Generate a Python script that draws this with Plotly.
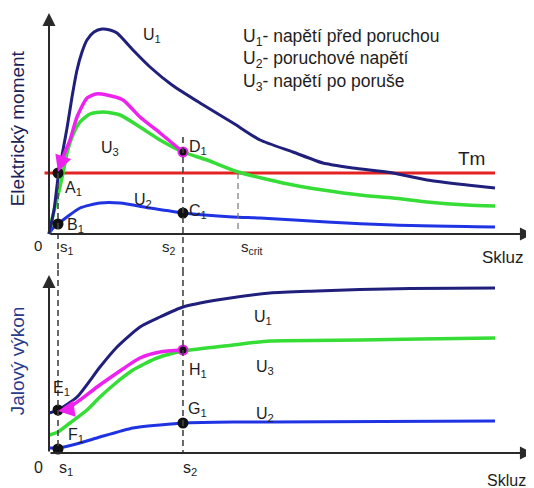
import plotly.graph_objects as go

# ---------------- data (slip s, torque T / reactive power Q, arbitrary units) -------------
# Top panel: electric torque vs slip
s_u1 = [0, 0.0112, 0.0202, 0.0314, 0.0404, 0.0516, 0.0628, 0.0740, 0.0852, 0.1009, 0.1188,
        0.1368, 0.1525, 0.1883, 0.2265, 0.2758, 0.3386, 0.4126, 0.4731, 0.5471, 0.6143,
        0.6816, 0.7713, 0.8475, 0.9372, 1.0]
t_u1 = [0, 0.24, 0.56, 0.84, 1.06, 1.37, 1.64, 1.82, 1.94, 2.02, 2.05,
        2.04, 2.01, 1.84, 1.67, 1.49, 1.31, 1.11, 0.94, 0.82, 0.71,
        0.66, 0.61, 0.54, 0.49, 0.46]

s_u3 = [0, 0.009, 0.0202, 0.0314, 0.0404, 0.0516, 0.0695, 0.0919, 0.1211, 0.1592, 0.2040,
        0.2489, 0.3004, 0.3543, 0.4238, 0.4955, 0.5471, 0.6143, 0.6973, 0.7713, 0.8475,
        0.9372, 1.0]
t_u3 = [0, 0.19, 0.39, 0.61, 0.81, 0.97, 1.12, 1.20, 1.22, 1.19, 1.07,
        0.94, 0.82, 0.74, 0.62, 0.54, 0.49, 0.44, 0.39, 0.36, 0.32,
        0.29, 0.28]

s_u2 = [0, 0.009, 0.0202, 0.0404, 0.0695, 0.1143, 0.1592, 0.2265, 0.3004, 0.4126, 0.4731,
        0.6233, 0.7713, 1.0]
t_u2 = [0, 0.06, 0.10, 0.17, 0.26, 0.31, 0.31, 0.26, 0.21, 0.17, 0.16,
        0.12, 0.09, 0.07]

s_tr_top = [0.3004, 0.2489, 0.2040, 0.1659, 0.1300, 0.1054, 0.0852, 0.0628, 0.0471, 0.0314, 0.0202]
t_tr_top = [0.82, 1.01, 1.17, 1.34, 1.39, 1.40, 1.36, 1.17, 0.94, 0.77, 0.62]

tm_value = 0.61
tm_s = [-0.01, 1.0]

s1 = 0.0202
s2 = 0.3004
s_crit = 0.4238

pts_top_s = [s1, s1, s2, s2]
pts_top_t = [0.61, 0.10, 0.21, 0.82]
pts_top_lab = ["A<sub>1</sub>", "B<sub>1</sub>", "C<sub>1</sub>", "D<sub>1</sub>"]

# Bottom panel: reactive power vs slip
s_q1 = [0, 0.0202, 0.0628, 0.1143, 0.1525, 0.2040, 0.2489, 0.3004, 0.3767, 0.4955, 0.6009,
        0.6973, 0.8094, 1.0]
q_u1 = [0.40, 0.43, 0.56, 0.86, 1.06, 1.26, 1.36, 1.46, 1.53, 1.60, 1.62,
        1.635, 1.645, 1.65]

s_q3 = [0, 0.0202, 0.0471, 0.0852, 0.1143, 0.1525, 0.1883, 0.2422, 0.3004, 0.4126, 0.4955,
        0.6973, 0.8318, 1.0]
q_u3 = [0.18, 0.21, 0.30, 0.43, 0.56, 0.71, 0.83, 0.95, 1.02, 1.08, 1.12,
        1.13, 1.14, 1.15]

s_q2 = [0, 0.0202, 0.0695, 0.1143, 0.1883, 0.2489, 0.3004, 0.4126, 0.4955, 1.0]
q_u2 = [0.05, 0.05, 0.10, 0.16, 0.25, 0.28, 0.30, 0.31, 0.31, 0.32]

s_tr_bot = [0.3004, 0.2489, 0.2040, 0.1525, 0.1076, 0.0695, 0.0359, 0.0202]
q_tr_bot = [1.03, 1.01, 0.95, 0.80, 0.66, 0.53, 0.43, 0.42]

pts_bot_s = [s1, s1, s2, s2]
pts_bot_q = [0.43, 0.04, 0.30, 1.03]

legend_lines = ["U<sub>1</sub>- napětí před poruchou",
                "U<sub>2</sub>- poruchové napětí",
                "U<sub>3</sub>- napětí po poruše"]

# ---------------- styling ----------------
NAVY = "#20207c"
GREEN = "#36dd36"
BLUE = "#1f33e3"
MAG = "#ee22ee"
RED = "#e52222"
AX = "#2a2a2a"
FONT = "Liberation Sans"
TXT = "#1e1e1e"

W, H = 526, 480
SPLIT = 262 / H
XR = [-41 / 446, (W - 41) / 446]
YR_TOP = [-0.36, 2.26]
YR_BOT = [-0.35, 1.83]

fig = go.Figure()

def line(x, y, color, w, xa="x", ya="y"):
    fig.add_trace(go.Scatter(x=x, y=y, mode="lines", xaxis=xa, yaxis=ya,
                             line=dict(color=color, width=w, shape="spline", smoothing=0.6),
                             hoverinfo="skip", showlegend=False))

# top panel
fig.add_trace(go.Scatter(x=tm_s, y=[tm_value, tm_value], mode="lines",
                         line=dict(color=RED, width=3), showlegend=False, hoverinfo="skip"))
line(s_u2, t_u2, BLUE, 3)
line(s_u3, t_u3, GREEN, 3.5)
line(s_u1, t_u1, NAVY, 3)
line(s_tr_top, t_tr_top, MAG, 3.5)

# bottom panel
line(s_q2, q_u2, BLUE, 3, "x2", "y2")
line(s_q3, q_u3, GREEN, 3.5, "x2", "y2")
line(s_q1, q_u1, NAVY, 3, "x2", "y2")
line(s_tr_bot, q_tr_bot, MAG, 3.5, "x2", "y2")

# points
fig.add_trace(go.Scatter(x=pts_top_s, y=pts_top_t, mode="markers",
                         marker=dict(color="#111", size=9,
                                     line=dict(color=["#111", "#111", "#111", MAG], width=2)),
                         showlegend=False, hoverinfo="skip"))
fig.add_trace(go.Scatter(x=pts_bot_s, y=pts_bot_q, mode="markers", xaxis="x2", yaxis="y2",
                         marker=dict(color="#111", size=9,
                                     line=dict(color=["#111", "#111", "#111", MAG], width=2)),
                         showlegend=False, hoverinfo="skip"))

fig.update_layout(
    width=W, height=H, margin=dict(l=0, r=0, t=0, b=0),
    paper_bgcolor="white", plot_bgcolor="white",
    xaxis=dict(domain=[0, 1], range=XR, visible=False, anchor="y"),
    yaxis=dict(domain=[1 - SPLIT, 1], range=YR_TOP, visible=False, anchor="x"),
    xaxis2=dict(domain=[0, 1], range=XR, visible=False, anchor="y2"),
    yaxis2=dict(domain=[0, 1 - SPLIT], range=YR_BOT, visible=False, anchor="x2"),
    font=dict(family=FONT, color=TXT),
)

shapes = []
DASH = "6px,4px"
# dashed guides
shapes.append(dict(type="line", xref="x", yref="y", x0=s1, x1=s1, y0=tm_value, y1=YR_TOP[0],
                   line=dict(color="#444", width=1.6, dash=DASH)))
shapes.append(dict(type="line", xref="x2", yref="y2", x0=s1, x1=s1, y0=YR_BOT[1], y1=0.03,
                   line=dict(color="#444", width=1.6, dash=DASH)))
shapes.append(dict(type="line", xref="x", yref="y", x0=s2, x1=s2, y0=0.97, y1=YR_TOP[0],
                   line=dict(color="#444", width=1.6, dash=DASH)))
shapes.append(dict(type="line", xref="x2", yref="y2", x0=s2, x1=s2, y0=YR_BOT[1], y1=0,
                   line=dict(color="#444", width=1.6, dash=DASH)))
shapes.append(dict(type="line", xref="x", yref="y", x0=s_crit, x1=s_crit, y0=tm_value, y1=0,
                   line=dict(color="#777", width=1.2, dash=DASH)))
fig.update_layout(shapes=shapes)

ann = []
def arrow(x, y, ax, ay, xr, yr, color, w, size):
    ann.append(dict(x=x, y=y, ax=ax, ay=ay, xref=xr, yref=yr, axref=xr, ayref=yr,
                    text="", showarrow=True, arrowhead=2, arrowsize=size, arrowwidth=w,
                    arrowcolor=color, standoff=0, startstandoff=0))

# axes with arrows
arrow(1.085, 0, 0, 0, "x", "y", AX, 2, 1.3)
arrow(0, 2.21, 0, 0, "x", "y", AX, 2, 1.3)
arrow(1.085, 0, 0, 0, "x2", "y2", AX, 2, 1.3)
arrow(0, 1.78, 0, 0, "x2", "y2", AX, 2, 1.3)
# magenta trajectory arrowheads
arrow(s_tr_top[-1], t_tr_top[-1], s_tr_top[-2], t_tr_top[-2], "x", "y", MAG, 3, 1.1)
arrow(s_tr_bot[-1], q_tr_bot[-1], s_tr_bot[-2], q_tr_bot[-2], "x2", "y2", MAG, 3, 1.1)

def txt(x, y, t, xr="x", yr="y", size=16, xanchor="center", color=TXT, angle=0):
    ann.append(dict(x=x, y=y, xref=xr, yref=yr, text=t, showarrow=False, xanchor=xanchor,
                    yanchor="middle", textangle=angle,
                    font=dict(family=FONT, size=size, color=color)))

# top panel text
txt(0.231, 1.99, "U<sub>1</sub>")
txt(0.137, 0.86, "U<sub>3</sub>")
txt(0.211, 0.34, "U<sub>2</sub>")
txt(0.948, 0.76, "Tm", size=19)
top_lab_pos = [(0.056, 0.46), (0.060, 0.09), (0.334, 0.23), (0.334, 0.87)]
for (lx, ly), lab in zip(top_lab_pos, pts_top_lab):
    txt(lx, ly, lab)
for i, l in enumerate(legend_lines):
    txt(0.4305, [1.97, 1.75, 1.52][i], l, xanchor="left", size=17.5)
txt(-0.025, -0.11, "0", size=15)
txt(0.040, -0.13, "s<sub>1</sub>", size=15)
txt(0.268, -0.13, "s<sub>2</sub>", size=15)
txt(0.455, -0.13, "s<sub>crit</sub>", size=15)
txt(1.018, -0.23, "Skluz", size=17)

# bottom panel text
txt(0.480, 1.36, "U<sub>1</sub>", "x2", "y2")
txt(0.484, 0.86, "U<sub>3</sub>", "x2", "y2")
txt(0.484, 0.39, "U<sub>2</sub>", "x2", "y2")
bot_lab = ["E<sub>1</sub>", "F<sub>1</sub>", "G<sub>1</sub>", "H<sub>1</sub>"]
bot_lab_pos = [(0.027, 0.65), (0.060, 0.18), (0.334, 0.44), (0.334, 0.83)]
for (lx, ly), lab in zip(bot_lab_pos, bot_lab):
    txt(lx, ly, lab, "x2", "y2")
txt(-0.023, -0.14, "0", "x2", "y2", size=16)
txt(0.038, -0.15, "s<sub>1</sub>", "x2", "y2", size=16)
txt(0.316, -0.15, "s<sub>2</sub>", "x2", "y2", size=16)
txt(1.074, -0.27, "Skluz", "x2", "y2", size=16, xanchor="right")

# axis titles
txt(-0.071, 1.06, "Elektrický moment", "x", "y", size=19, color="#1c2255", angle=-90)
txt(-0.071, 0.92, "Jalový výkon", "x2", "y2", size=19, color="#2a3a8a", angle=-90)

fig.update_layout(annotations=ann)
fig.write_html("out.html")
